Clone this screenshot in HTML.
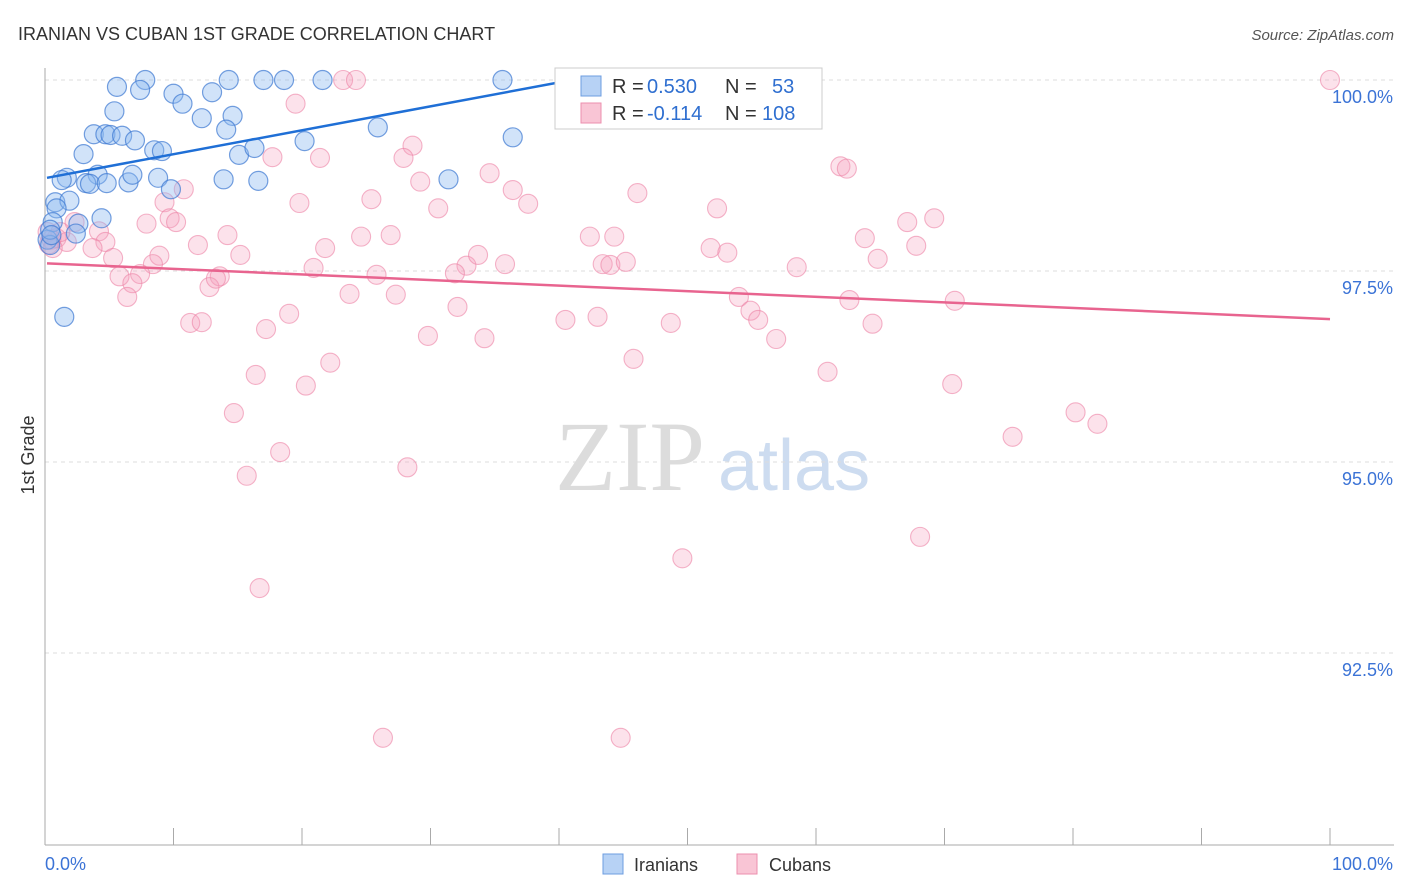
<!DOCTYPE html>
<html><head><meta charset="utf-8"><style>
body{margin:0;background:#fff;font-family:"Liberation Sans",sans-serif}
svg{display:block}
</style></head><body>
<svg id="c" width="1406" height="892">
<text x="18" y="40" font-size="18" fill="#333">IRANIAN VS CUBAN 1ST GRADE CORRELATION CHART</text>
<text x="1394" y="40" font-size="15" fill="#555" text-anchor="end" font-style="italic">Source: ZipAtlas.com</text>
<text x="555" y="490" font-size="100" fill="#dcdcdc" font-family="Liberation Serif">ZIP</text>
<text x="718" y="490" font-size="72" fill="#cddcf0">atlas</text>
<text transform="translate(34,455) rotate(-90)" font-size="18" fill="#333" text-anchor="middle">1st Grade</text>
<g id="grid"></g><g id="pts"></g><g id="lines"></g>
<g>
<rect x="555" y="68" width="267" height="61" fill="#fff" stroke="#ccc"/>
<rect x="581" y="76" width="20" height="20" fill="#b7d2f5" stroke="#6c9de0"/>
<rect x="581" y="103" width="20" height="20" fill="#f9c5d5" stroke="#ec8fae"/>
<text x="612" y="93" font-size="20" fill="#333">R = </text>
<text x="647" y="93" font-size="20" fill="#2f6fd0">0.530</text>
<text x="725" y="93" font-size="20" fill="#333">N =</text>
<text x="772" y="93" font-size="20" fill="#2f6fd0">53</text>
<text x="612" y="120" font-size="20" fill="#333">R = </text>
<text x="647" y="120" font-size="20" fill="#2f6fd0">-0.114</text>
<text x="725" y="120" font-size="20" fill="#333">N =</text>
<text x="762" y="120" font-size="20" fill="#2f6fd0">108</text>
</g>
<g>
<rect x="603" y="854" width="20" height="20" fill="#b7d2f5" stroke="#6c9de0"/>
<text x="634" y="871" font-size="18" fill="#333">Iranians</text>
<rect x="737" y="854" width="20" height="20" fill="#f9c5d5" stroke="#ec8fae"/>
<text x="769" y="871" font-size="18" fill="#333">Cubans</text>
</g>
</svg>
<script>
const yTicks=[100,97.5,95,92.5];
const yTickLabels=["100.0%","97.5%","95.0%","92.5%"];
const xTickLabels=["0.0%","100.0%"];
const blueX=[5.6,7.8,7.4,10.0,10.7,13.0,14.3,17.0,18.6,21.6,35.6,5.4,12.2,14.6,14.1,25.9,36.4,3.8,4.7,5.1,6.0,7.0,3.0,8.5,9.1,15.1,16.3,20.2,4.1,1.7,1.3,3.2,3.5,4.8,6.5,6.8,8.8,9.8,13.9,16.6,31.4,0.8,1.9,0.9,4.4,0.6,2.6,0.2,1.5,0.4,2.4,0.4,0.5];
const blueY=[99.91,100,99.87,99.82,99.69,99.84,100,100,100,100,100,99.59,99.50,99.53,99.35,99.38,99.25,99.29,99.29,99.28,99.27,99.21,99.03,99.08,99.07,99.02,99.11,99.20,98.76,98.72,98.69,98.65,98.64,98.65,98.66,98.76,98.72,98.57,98.70,98.68,98.70,98.40,98.42,98.32,98.19,98.14,98.12,97.91,96.90,97.84,97.99,98.04,97.97];
const pinkX=[100,23.2,24.2,52.3,19.5,28.6,17.7,21.4,27.9,61.9,62.4,34.6,29.2,36.4,46.1,10.8,19.8,25.4,30.6,37.6,52.3,9.3,7.9,9.7,10.2,2.3,4.2,14.2,24.6,26.9,42.4,44.3,63.8,67.1,69.2,67.8,51.8,53.1,11.9,15.2,21.8,4.7,3.7,0.9,1.7,5.3,8.9,8.4,5.8,7.4,6.8,6.4,13.6,12.8,13.3,20.9,25.8,32.8,33.7,35.8,31.9,43.4,44.0,45.2,58.5,64.8,23.7,27.3,32.1,54.0,62.6,70.8,54.9,55.5,40.5,43.0,48.7,11.3,12.2,19.0,17.2,29.8,34.2,56.9,64.4,45.8,22.2,16.4,20.3,60.9,70.6,14.7,80.2,81.9,75.3,18.3,28.2,15.7,68.1,49.6,16.7,26.3,44.8,0.2,0.5,1.2,0.3,0.6];
const pinkY=[100,100,100,100,99.69,99.14,98.99,98.98,98.98,98.87,98.84,98.78,98.67,98.56,98.52,98.57,98.39,98.44,98.32,98.38,98.32,98.40,98.12,98.19,98.14,98.14,98.02,97.97,97.95,97.97,97.95,97.95,97.93,98.14,98.19,97.83,97.80,97.74,97.84,97.71,97.80,97.88,97.80,97.93,97.88,97.67,97.70,97.59,97.43,97.46,97.34,97.16,97.43,97.29,97.40,97.54,97.45,97.57,97.71,97.59,97.47,97.59,97.58,97.62,97.55,97.66,97.20,97.19,97.03,97.16,97.12,97.11,96.98,96.86,96.86,96.90,96.82,96.82,96.83,96.94,96.74,96.65,96.62,96.61,96.81,96.35,96.30,96.14,96.00,96.18,96.02,95.64,95.65,95.50,95.33,95.13,94.93,94.82,94.02,93.74,93.35,91.39,91.39,98.01,97.91,98.01,97.85,97.80];
const blueTrend=[[0,98.72],[41,100]];
const pinkTrend=[[0,97.60],[100,96.87]];
const NS="http://www.w3.org/2000/svg";
function sx(v){return 45+v*12.85;}
function sy(v){return 80+(100-v)*76.4;}
function mk(t,a,p){const e=document.createElementNS(NS,t);for(const k in a)e.setAttribute(k,a[k]);p.appendChild(e);return e;}
const grid=document.getElementById('grid');
yTicks.forEach((t,i)=>{
 const l=mk('line',{x1:45,x2:1394,y1:sy(t),y2:sy(t),stroke:'#ddd','stroke-dasharray':'4,4'},grid);
 
 
 const tx=mk('text',{x:1393,y:sy(t)+23,'font-size':18,fill:'#3b73d6','text-anchor':'end'},grid);
 tx.textContent=yTickLabels[i];
 
 
});
const ax=mk('line',{x1:45,x2:45,y1:68,y2:845,stroke:'#aaa'},grid);


const xa=mk('line',{x1:45,x2:1394,y1:845,y2:845,stroke:'#aaa'},grid);


for(let i=0;i<=10;i++){
 const t=mk('line',{x1:sx(i*10),x2:sx(i*10),y1:828,y2:845,stroke:'#aaa'},grid);
 
 
}
[[0,'start',45],[100,'end',1393]].forEach((d,i)=>{
 const tx=mk('text',{x:d[2],y:870,'font-size':18,fill:'#3b73d6','text-anchor':d[1]},grid);
 tx.textContent=xTickLabels[i];
 
 
});
const pts=document.getElementById('pts');
pinkX.forEach((x,i)=>{
 const c=mk('circle',{cx:sx(x),cy:sy(pinkY[i]),r:9.5,fill:'rgba(244,160,190,0.3)',stroke:'rgba(236,130,165,0.6)','stroke-width':1.1},pts);
 
 
});
blueX.forEach((x,i)=>{
 const c=mk('circle',{cx:sx(x),cy:sy(blueY[i]),r:9.5,fill:'rgba(140,185,240,0.4)',stroke:'rgba(60,120,210,0.7)','stroke-width':1.2},pts);
 
 
});
const lines=document.getElementById('lines');
const bl=mk('line',{x1:sx(blueTrend[0][0])+2,y1:sy(blueTrend[0][1]),x2:sx(blueTrend[1][0]),y2:sy(blueTrend[1][1]),stroke:'#1f6fd6','stroke-width':2.5},lines);


const pl=mk('line',{x1:sx(pinkTrend[0][0])+2,y1:sy(pinkTrend[0][1]),x2:sx(pinkTrend[1][0]),y2:sy(pinkTrend[1][1]),stroke:'#e8648f','stroke-width':2.5},lines);


</script>
</body></html>
